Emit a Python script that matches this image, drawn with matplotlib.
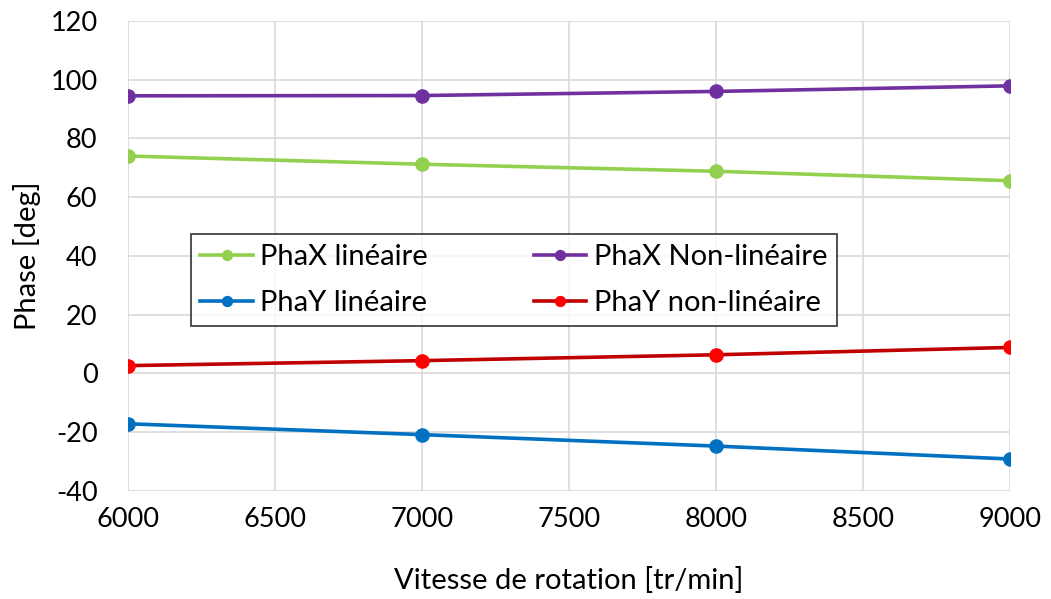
import matplotlib
matplotlib.use('Agg')
import matplotlib.pyplot as plt

plt.rcParams['font.family'] = ['Lato', 'DejaVu Sans']
plt.rcParams['axes.unicode_minus'] = False

# data
vitesse = [6000, 7000, 8000, 9000]
phax_lin = [74.0, 71.2, 68.8, 65.6]
phax_nonlin = [94.5, 94.6, 96.0, 97.9]
phay_lin = [-17.2, -20.9, -24.8, -29.2]
phay_nonlin = [2.6, 4.3, 6.3, 8.8]

fig = plt.figure(figsize=(10.51, 5.99), dpi=100)
ax = fig.add_axes([0.1218, 0.1808, 0.8392, 0.7842])

lw, ms = 2.6, 9.5
l1, = ax.plot(vitesse, phax_lin, '-o', color='#92D050', lw=lw, ms=ms, label='PhaX linéaire')
l2, = ax.plot(vitesse, phax_nonlin, '-o', color='#7030A0', lw=lw, ms=ms, label='PhaX Non-linéaire')
l3, = ax.plot(vitesse, phay_lin, '-o', color='#0070C0', lw=lw, ms=ms, label='PhaY linéaire')
l4, = ax.plot(vitesse, phay_nonlin, '-o', color='#C00000', mfc='#FF0000', mec='#FF0000',
              lw=lw, ms=ms, label='PhaY non-linéaire')

ax.set_xlim(6000, 9000)
ax.set_ylim(-40, 120)
ax.set_xticks(range(6000, 9001, 500))
ax.set_yticks(range(-40, 121, 20))
ax.grid(True, color='#D9D9D9', lw=1.2)
ax.set_axisbelow(True)
for s in ax.spines.values():
    s.set_visible(False)
ax.tick_params(length=0, labelsize=19.5, colors='#000000')
ax.tick_params(axis='y', pad=22)
ax.tick_params(axis='x', pad=12)

ax.set_xlabel('Vitesse de rotation [tr/min]', fontsize=21, labelpad=25)
ax.set_ylabel('Phase [deg]', fontsize=21, labelpad=7)

leg = ax.legend([l1, l3, l2, l4], [l1.get_label(), l3.get_label(), l2.get_label(), l4.get_label()],
                ncol=2, fontsize=21, frameon=True, fancybox=False,
                loc='lower left', bbox_to_anchor=(0.071, 0.351, 0.7325, 0.2077), mode='expand',
                borderaxespad=0, handlelength=1.8, handletextpad=0.25, columnspacing=3.0,
                labelspacing=0.7, markerscale=0.75, borderpad=0.33)
leg.get_frame().set_edgecolor('#000000')
leg.get_frame().set_linewidth(1.2)

fig.savefig('out.png', dpi=100)
